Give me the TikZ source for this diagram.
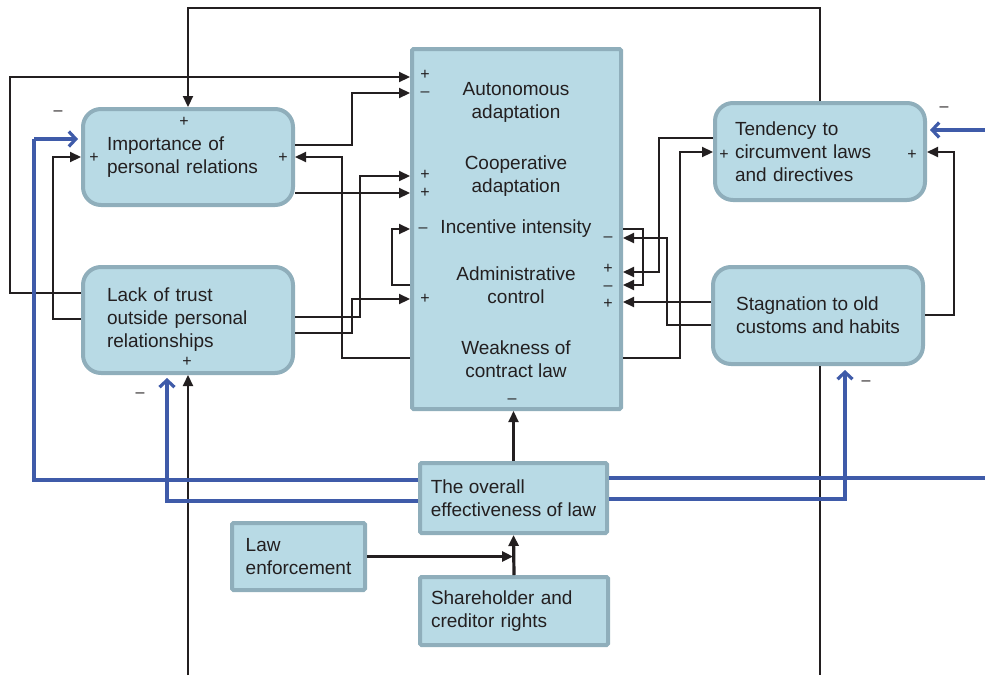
\documentclass[tikz,border=0pt]{standalone}
\usepackage{fontspec}
\setmainfont{Liberation Sans}
\usetikzlibrary{arrows.meta}
\definecolor{boxfill}{HTML}{B8DAE5}
\definecolor{boxline}{HTML}{8FAEBB}
\definecolor{linkblue}{HTML}{3F5BA9}
\definecolor{ink}{HTML}{231F20}

\begin{document}
\begin{tikzpicture}[x=1pt,y=-1pt,
  every node/.style={font=\fontsize{19}{23}\selectfont, text=ink},
  rbox/.style={draw=boxline, fill=boxfill, line width=4pt, rounded corners=18pt,
    align=left, inner sep=0pt},
  sbox/.style={draw=boxline, fill=boxfill, line width=4pt, rounded corners=1.5pt,
    align=left, inner sep=0pt},
  lbl/.style={inner sep=0pt, align=center},
  sgn/.style={inner sep=0pt, font=\fontsize{16}{16}\selectfont},
  link/.style={draw=ink, line width=2.2pt, -{Triangle[length=11pt,width=10pt]}},
  plain/.style={draw=ink, line width=2.2pt},
  heavy/.style={draw=ink, line width=3.2pt, -{Triangle[length=11pt,width=10pt]}},
  blink/.style={draw=linkblue, line width=3.2pt, -{Straight Barb[length=7pt,width=15pt]}},
  bplain/.style={draw=linkblue, line width=3.2pt}
]
\useasboundingbox (0,0) rectangle (985,675);

% free ends of the connectors running off the edges
\coordinate (botL) at (188,675);
\coordinate (botR) at (820,675);
\coordinate (rightA) at (985,478);
\coordinate (rightB) at (985,130);

% boxes
\node[sbox, minimum width=209, minimum height=360] (ctr) at (516.5,229) {};
\node[rbox, minimum width=210, minimum height=96, text width=162] (imp) at (188,157)
  {Importance of\\personal relations};
\node[rbox, minimum width=210, minimum height=106, text width=162] (lack) at (188,320)
  {Lack of trust\\outside personal\\relationships};
\node[rbox, minimum width=210, minimum height=97, text width=170] (tend) at (820,151.5)
  {Tendency to\\circumvent laws\\and directives};
\node[rbox, minimum width=210, minimum height=97] (stag) at (818,315.5)
  {Stagnation to old\\customs and habits};
\node[sbox, minimum width=187, minimum height=70] (eff) at (513.5,498)
  {The overall\\effectiveness of law};
\node[sbox, minimum width=133, minimum height=67] (law) at (298.5,556.5)
  {Law\\enforcement};
\node[sbox, minimum width=188, minimum height=68, text width=166] (sh) at (514,611)
  {Shareholder and\\creditor rights};

% variables inside the central block
\node[lbl] (auto) at (516,102) {Autonomous\\adaptation};
\node[lbl] (coop) at (516,176) {Cooperative\\adaptation};
\node[lbl] (inc)  at (516,229) {Incentive intensity};
\node[lbl] (adm)  at (516,285) {Administrative\\control};
\node[lbl] (weak) at (516,359) {Weakness of\\contract law};

% left-hand links
\draw[link] (tend.north) |- (imp.north |- 0,8) -- (imp.north);
\draw[plain] (stag.south -| botR) -- (botR);
\draw[link] (botL) -- (lack.south);
\draw[link] (lack.west |- 0,293) -| (10,77) -- (ctr.west |- 0,77);
\draw[link] (imp.east |- 0,145) -| (352,93) -- (ctr.west |- 0,93);
\draw[link] (imp.east |- 0,193) -- (ctr.west |- 0,193);
\draw[link] (lack.east |- 0,317) -| (360,176) -- (ctr.west |- 0,176);
\draw[link] (lack.east |- 0,333) -| (352,299) -- (ctr.west |- 0,299);
\draw[link] (ctr.west |- 0,358) -| (342,157) -- (imp.east |- 0,157);
\draw[link] (ctr.west |- 0,285) -| (392,229) -- (ctr.west |- 0,229);
\draw[link] (lack.west |- 0,319) -| (53,157) -- (imp.west |- 0,157);

% right-hand links
\draw[link] (ctr.east |- 0,229) -| (643,285) -- (ctr.east |- 0,285);
\draw[link] (stag.west |- 0,325) -| (667,238) -- (ctr.east |- 0,238);
\draw[link] (tend.west |- 0,138) -| (659,272) -- (ctr.east |- 0,272);
\draw[link] (ctr.east |- 0,358) -| (680,152) -- (tend.west |- 0,152);
\draw[link] (stag.west |- 0,302) -- (ctr.east |- 0,302);
\draw[link] (stag.east |- 0,315) -| (954,152) -- (tend.east |- 0,152);

% effectiveness of law
\draw[bplain] (eff.west |- 0,480) -| (34,139) coordinate (bturn);
\draw[blink, shorten >=3pt] (bturn) -- (imp.west |- bturn);
\draw[blink, shorten >=3pt] (eff.west |- 0,501) -| (lack.south -| 167,0);
\draw[bplain] (eff.east |- rightA) -- (rightA);
\draw[blink, shorten >=4pt] (eff.east |- 0,499) -| (stag.south -| 845,0);
\draw[blink, shorten >=3pt] (rightB) -- (tend.east |- rightB);
\draw[link] (eff.north) -- (eff.north |- ctr.south);
\draw[heavy, shorten >=1pt] (law.east) -- (law.east -| sh.north);
\draw[heavy] (sh.north) -- (eff.south);

% polarity signs
\node[sgn] (s1)  at (184,122) {+};
\node[sgn] (s2)  at (94,158)  {+};
\node[sgn] (s3)  at (283,158) {+};
\node[sgn] (s4)  at (58,113)  {–};
\node[sgn] (s5)  at (187,362) {+};
\node[sgn] (s6)  at (140,395) {–};
\node[sgn] (s7)  at (425,75)  {+};
\node[sgn] (s8)  at (425,94)  {–};
\node[sgn] (s9)  at (425,175) {+};
\node[sgn] (s10) at (425,193) {+};
\node[sgn] (s11) at (423,230) {–};
\node[sgn] (s12) at (425,299) {+};
\node[sgn] (s13) at (608,239) {–};
\node[sgn] (s14) at (608,269) {+};
\node[sgn] (s15) at (608,288) {–};
\node[sgn] (s16) at (608,304) {+};
\node[sgn] (s17) at (512,401) {–};
\node[sgn] (s18) at (724,155) {+};
\node[sgn] (s19) at (912,155) {+};
\node[sgn] (s20) at (944,109) {–};
\node[sgn] (s21) at (866,383) {–};
\end{tikzpicture}
\end{document}
